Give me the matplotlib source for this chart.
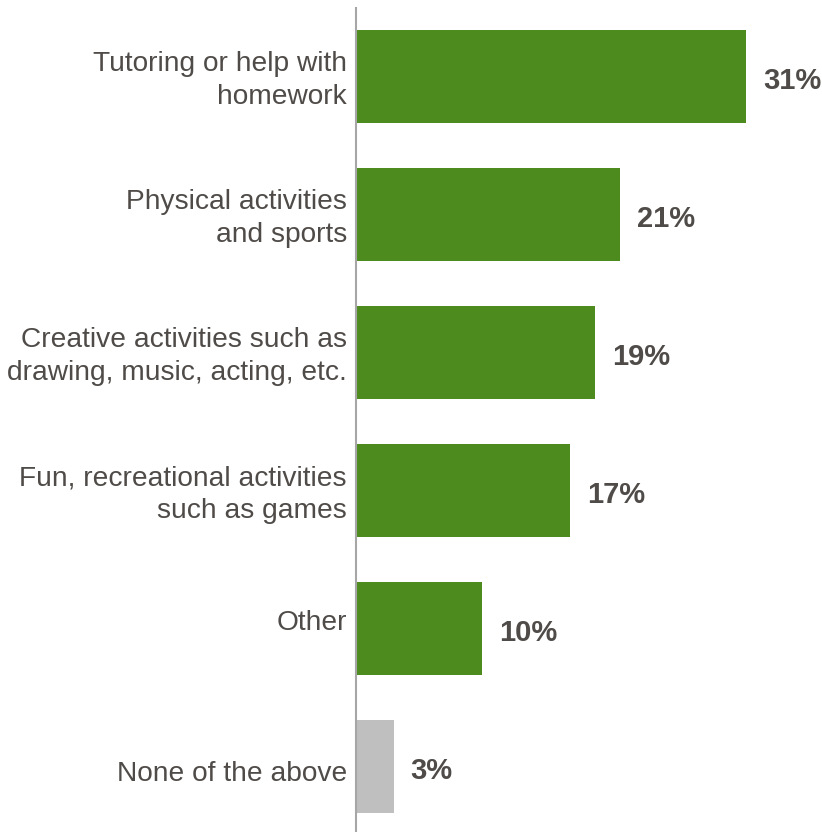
import matplotlib
matplotlib.use("Agg")
import matplotlib.pyplot as plt
import matplotlib.transforms as mtransforms

categories = [
    "Tutoring or help with\nhomework",
    "Physical activities\nand sports",
    "Creative activities such as\ndrawing, music, acting, etc.",
    "Fun, recreational activities\nsuch as games",
    "Other\n",
    "None of the above",
]
values = [31, 21, 19, 17, 10, 3]
value_labels = ["31%", "21%", "19%", "17%", "10%", "3%"]

GREEN = "#4E8B1F"
GRAY = "#BFBFBF"
TEXT = "#4F4B48"
bar_colors = [GREEN] * 5 + [GRAY]

plt.rcParams["font.family"] = ["Liberation Sans", "DejaVu Sans"]

fig = plt.figure(figsize=(8.22, 8.32), dpi=100)
ax = fig.add_axes([356 / 822, 0.0, 1 - 356 / 822, 824 / 832])

pos = list(range(len(categories)))
ax.barh(pos, values, height=0.674, color=bar_colors)
ax.set_xlim(0, 37)
ax.set_ylim(5.475, -0.496)

ax.set_yticks(pos)
ax.set_yticklabels(categories, fontsize=20.25, color=TEXT, ha="right",
                   linespacing=1.33)
ax.tick_params(axis="y", length=0, pad=6.5)
ax.set_xticks([])

# nudge the category labels so each block sits centred on its bar
for t in ax.get_yticklabels():
    lines = [ln for ln in t.get_text().split("\n") if ln]
    dy = 1.5 if len(lines) > 1 else -3
    shift = mtransforms.ScaledTranslation(0, dy / 72, fig.dpi_scale_trans)
    t.set_transform(t.get_transform() + shift)

for s in ["top", "right", "bottom"]:
    ax.spines[s].set_visible(False)
ax.spines["left"].set_color("#A6A6A6")
ax.spines["left"].set_linewidth(1.5)

for p, v, lab in zip(pos, values, value_labels):
    ax.annotate(lab, (v, p), xytext=(12.2, -3), textcoords="offset points",
                ha="left", va="center", fontsize=21, fontweight="bold",
                color=TEXT)

fig.savefig("out.png", dpi=100)
